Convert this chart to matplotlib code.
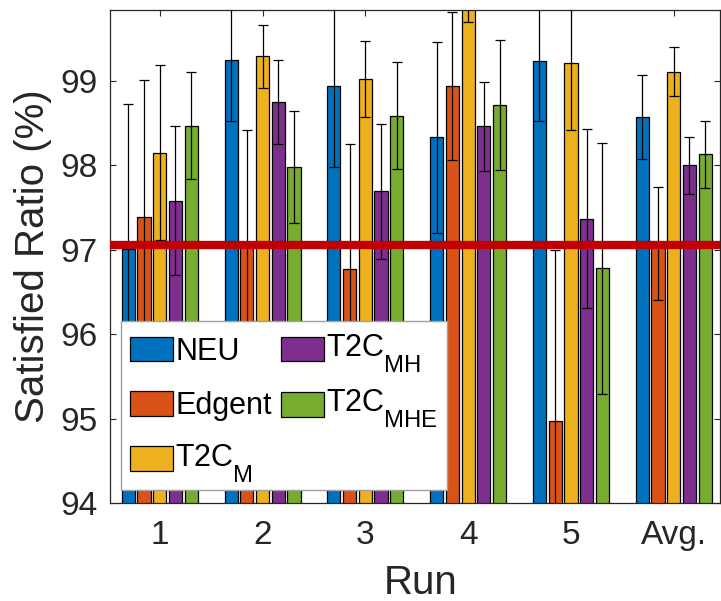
import numpy as np
import matplotlib
matplotlib.use("Agg")
import matplotlib.pyplot as plt
import matplotlib.transforms as mtransforms
import matplotlib._mathtext as _mt

plt.rcParams['font.family'] = ['Liberation Sans', 'DejaVu Sans']
plt.rcParams['mathtext.fontset'] = 'custom'
plt.rcParams['mathtext.rm'] = 'Liberation Sans'
plt.rcParams['mathtext.it'] = 'Liberation Sans'
plt.rcParams['mathtext.default'] = 'regular'

# MATLAB-like larger, lower subscripts
_mt.SHRINK_FACTOR = 0.78
_mt.FontConstantsBase.sub1 = 0.95
for _c in _mt.FontConstantsBase.__subclasses__():
    _c.sub1 = 0.95

runs = ['1', '2', '3', '4', '5', 'Avg.']
series = ['NEU', 'Edgent', r'T2C$_{\mathrm{M}}$', r'T2C$_{\mathrm{MH}}$', r'T2C$_{\mathrm{MHE}}$']
colors = ['#0072BD', '#D95319', '#EDB120', '#7E2F8E', '#77AC30']

neu      = [97.01, 99.25, 98.94, 98.33, 99.24, 98.57]
edgent   = [97.39, 97.04, 96.77, 98.94, 94.97, 97.07]
t2c_m    = [98.15, 99.29, 99.02, 100.05, 99.21, 99.11]
t2c_mh   = [97.58, 98.75, 97.69, 98.46, 97.37, 98.00]
t2c_mhe  = [98.47, 97.98, 98.59, 98.72, 96.78, 98.13]

neu_err     = [1.72, 0.72, 0.96, 1.13, 0.71, 0.50]
edgent_err  = [1.62, 1.38, 1.48, 0.88, 2.03, 0.67]
t2c_m_err   = [1.04, 0.37, 0.45, 0.35, 0.79, 0.29]
t2c_mh_err  = [0.88, 0.50, 0.80, 0.53, 1.06, 0.34]
t2c_mhe_err = [0.63, 0.66, 0.63, 0.77, 1.49, 0.40]

threshold = 97.06

values = [neu, edgent, t2c_m, t2c_mh, t2c_mhe]
errors = [neu_err, edgent_err, t2c_m_err, t2c_mh_err, t2c_mhe_err]

fig = plt.figure(figsize=(7.21, 6.01), dpi=100)
ax = fig.add_axes([110/721, 98/601, 610/721, 493/601])

x = np.arange(1, len(runs) + 1)
step = 0.153
width = 0.128
handles = []
for i, (vals, errs) in enumerate(zip(values, errors)):
    pos = x + (i - 2) * step
    b = ax.bar(pos, vals, width=width, bottom=0, color=colors[i], edgecolor='black',
               linewidth=0.9, label=series[i], zorder=2)
    handles.append(b)
    ax.errorbar(pos, vals, yerr=errs, fmt='none', ecolor='black', elinewidth=0.9,
                capsize=3.3, capthick=0.9, zorder=3)

ax.axhline(threshold, xmin=0.005, xmax=1, color='#C00000', linewidth=6, zorder=4)

ax.set_xlim(0.516, 6.45)
ax.set_ylim(94, 99.84)
ax.set_xticks(x)
ax.set_xticklabels(runs)
ax.set_yticks([94, 95, 96, 97, 98, 99])

ax.tick_params(axis='both', direction='in', length=4, width=0.8, colors='#262626',
               labelsize=24, top=True, right=True)
ax.tick_params(axis='x', pad=12)
ax.tick_params(axis='y', pad=9)
for s in ax.spines.values():
    s.set_color('#262626')
    s.set_linewidth(0.9)

ax.set_ylabel('Satisfied Ratio (%)', fontsize=29, color='#262626', labelpad=6)
ax.set_xlabel('Run', fontsize=29, color='#262626')
ax.xaxis.set_label_coords(0.51, -0.124)

leg = ax.legend(handles=handles, loc='lower left', bbox_to_anchor=(0.018, 0.026),
                ncol=2, fontsize=22, frameon=True, fancybox=False, framealpha=1,
                edgecolor='#A0A0A0', handlelength=1.41, handleheight=0.88,
                handletextpad=0.08, labelspacing=0.8, columnspacing=0.3,
                borderpad=0.28, borderaxespad=0)
leg.get_frame().set_linewidth(1.0)
leg.set_zorder(5)

# align the rows of the two legend columns (subscripted labels are deeper)
fig.canvas.draw()
_r = fig.canvas.get_renderer()
_d_plain = leg.texts[0]._get_layout(_r)[2]
_d_sub = leg.texts[3]._get_layout(_r)[2]
_delta_pt = (_d_sub - _d_plain) * 72.0 / fig.dpi
_cols = leg._legend_handle_box.get_children()
if len(_cols) > 1:
    _cols[1].sep = _cols[0].sep - _delta_pt

# MATLAB-style vertical placement inside the legend box
def _offset(dy_px):
    return mtransforms.ScaledTranslation(0, dy_px / fig.dpi, fig.dpi_scale_trans)

for _h in leg.legend_handles:
    _h.set_transform(_h.get_data_transform() + _offset(-6))
for _k, _t in enumerate(leg.texts):
    _t.set_transform(_t.get_transform() + _offset(-6 if _k < 2 else -3))

fig.savefig('out.png', dpi=100)
